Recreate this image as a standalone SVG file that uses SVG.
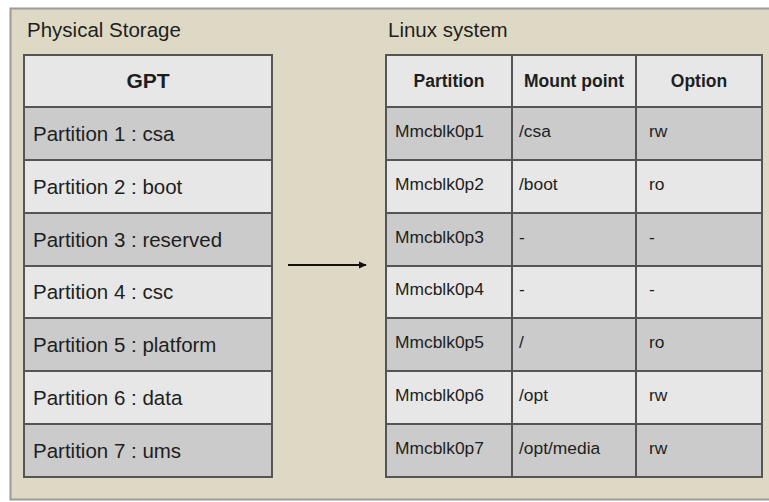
<svg xmlns="http://www.w3.org/2000/svg" width="769" height="502" viewBox="0 0 769 502">
<defs>
<style>
text{font-family:"Liberation Sans",Arial,sans-serif;fill:#1e1e1e}
.title{font-size:20.5px}
.cell{font-size:20.5px}
.hdr{font-size:21px;font-weight:bold}
.rh{font-size:17.5px;font-weight:bold}
.rc{font-size:17.4px}
.dark{fill:#cbcbcb;stroke:#555;stroke-width:2}
.light{fill:#e7e7e7;stroke:#555;stroke-width:2}
.vline{stroke:#555;stroke-width:2}
</style>
<marker id="ah" viewBox="0 0 10 10" refX="9" refY="5" markerWidth="8" markerHeight="8" orient="auto" markerUnits="userSpaceOnUse">
<path d="M0,0.5 L10,5 L0,9.5 z" fill="#111"/>
</marker>
</defs>
<rect width="769" height="502" fill="#ffffff"/>
<rect x="10.5" y="8.5" width="770" height="491" fill="#ded9c4" stroke="#9a9a9a" stroke-width="2"/>

<g id="physical-storage">
<text class="title" x="27" y="37">Physical Storage</text>
<rect class="light" x="24" y="55" width="248" height="52"/>
<text class="hdr" x="148" y="88" text-anchor="middle">GPT</text>
<rect class="dark" x="24" y="107" width="248" height="53"/>
<text class="cell" x="33" y="141">Partition 1 : csa</text>
<rect class="light" x="24" y="160" width="248" height="53"/>
<text class="cell" x="33" y="194">Partition 2 : boot</text>
<rect class="dark" x="24" y="213" width="248" height="53"/>
<text class="cell" x="33" y="247">Partition 3 : reserved</text>
<rect class="light" x="24" y="266" width="248" height="52"/>
<text class="cell" x="33" y="299">Partition 4 : csc</text>
<rect class="dark" x="24" y="318" width="248" height="53"/>
<text class="cell" x="33" y="352">Partition 5 : platform</text>
<rect class="light" x="24" y="371" width="248" height="53"/>
<text class="cell" x="33" y="405">Partition 6 : data</text>
<rect class="dark" x="24" y="424" width="248" height="53"/>
<text class="cell" x="33" y="458">Partition 7 : ums</text>
</g>

<g id="linux-system">
<text class="title" x="388" y="37">Linux system</text>
<rect class="light" x="386" y="55" width="376" height="52"/>
<rect class="dark" x="386" y="107" width="376" height="53"/>
<rect class="light" x="386" y="160" width="376" height="53"/>
<rect class="dark" x="386" y="213" width="376" height="53"/>
<rect class="light" x="386" y="266" width="376" height="52"/>
<rect class="dark" x="386" y="318" width="376" height="53"/>
<rect class="light" x="386" y="371" width="376" height="53"/>
<rect class="dark" x="386" y="424" width="376" height="53"/>
<line class="vline" x1="512" y1="55" x2="512" y2="477"/>
<line class="vline" x1="636" y1="55" x2="636" y2="477"/>
<text class="rh" x="449" y="87" text-anchor="middle">Partition</text>
<text class="rh" x="574" y="87" text-anchor="middle">Mount point</text>
<text class="rh" x="699" y="87" text-anchor="middle">Option</text>
<text class="rc" x="395" y="137">Mmcblk0p1</text><text class="rc" x="519" y="137">/csa</text><text class="rc" x="649" y="137">rw</text>
<text class="rc" x="395" y="190">Mmcblk0p2</text><text class="rc" x="519" y="190">/boot</text><text class="rc" x="649" y="190">ro</text>
<text class="rc" x="395" y="243">Mmcblk0p3</text><text class="rc" x="519" y="243">-</text><text class="rc" x="649" y="243">-</text>
<text class="rc" x="395" y="295">Mmcblk0p4</text><text class="rc" x="519" y="295">-</text><text class="rc" x="649" y="295">-</text>
<text class="rc" x="395" y="348">Mmcblk0p5</text><text class="rc" x="519" y="348">/</text><text class="rc" x="649" y="348">ro</text>
<text class="rc" x="395" y="401">Mmcblk0p6</text><text class="rc" x="519" y="401">/opt</text><text class="rc" x="649" y="401">rw</text>
<text class="rc" x="395" y="454">Mmcblk0p7</text><text class="rc" x="519" y="454">/opt/media</text><text class="rc" x="649" y="454">rw</text>
</g>

<g id="connectors">
<line x1="288" y1="265" x2="366" y2="265" stroke="#111" stroke-width="2.2" marker-end="url(#ah)"/>
</g>
</svg>
